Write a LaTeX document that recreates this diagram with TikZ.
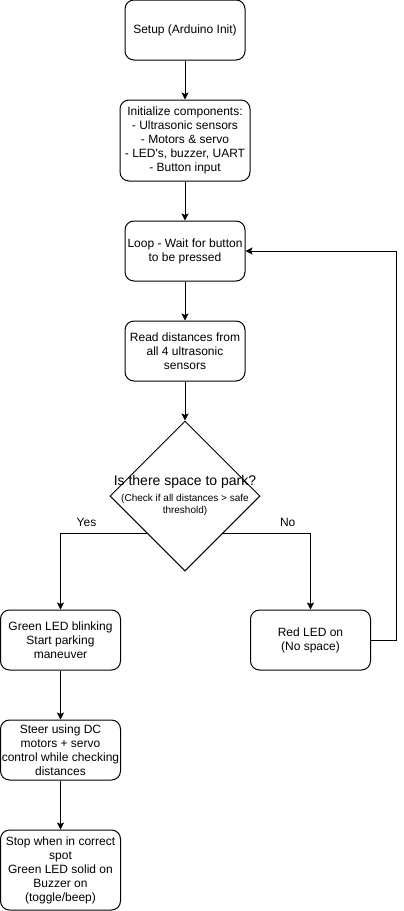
\documentclass[tikz,border=0pt]{standalone}
\usepackage{fontspec}
\setmainfont{Liberation Sans}
\usetikzlibrary{arrows.meta,positioning,shapes.geometric,calc}

\begin{document}
\begin{tikzpicture}[
  x=1pt, y=1pt,
  node distance=39pt,
  stepbox/.style={draw, line width=1pt, rounded corners=9pt, minimum width=120pt, minimum height=60pt, align=center, inner sep=1pt, font=\fontsize{12}{14}\selectfont},
  decide/.style={draw, diamond, line width=1pt, minimum width=150pt, minimum height=150pt, inner sep=0pt, fill=white},
  lbl/.style={font=\fontsize{12}{14}\selectfont},
  arr/.style={-{Stealth[length=7pt, width=7pt, inset=1.5pt]}, line width=1pt}
]
  \useasboundingbox (0,0) rectangle (404,-911);

  % Main column
  \node[stepbox] (setup) at (185,-30) {Setup (Arduino Init)};
  \node[stepbox, minimum width=130pt, minimum height=81pt, below=of setup] (init) {Initialize components:\\- Ultrasonic sensors\\- Motors \& servo\\- LED\textquotesingle s, buzzer, UART\\- Button input};
  \node[stepbox, below=of init] (loop) {Loop - Wait for button\\to be pressed};
  \node[stepbox, below=of loop] (read) {Read distances from\\all 4 ultrasonic\\sensors};

  % Decision
  \node[decide, below=of read] (check) {};
  \node[font=\fontsize{14}{16}\selectfont, inner sep=0pt] (question) at ($(check.center)+(0,14.5)$) {Is there space to park?};
  \node[font=\fontsize{10}{12}\selectfont, align=center, inner sep=0pt] (hint) at ($(check.center)+(0,-9)$) {(Check if all distances > safe\\threshold)};

  % Branches
  \node[stepbox] (go) at (60.5,-640) {Green LED blinking\\Start parking\\maneuver};
  \node[stepbox] (nospace) at (310.5,-640) {Red LED on\\(No space)};
  \node[stepbox, below=49pt of go] (steer) {Steer using DC\\motors + servo\\control while checking\\distances};
  \node[stepbox, minimum height=80pt, below=49pt of steer] (stop) {Stop when in correct\\spot\\Green LED solid on\\Buzzer on\\(toggle/beep)};

  \draw[arr] (setup) -- (init);
  \draw[arr] (init) -- (loop);
  \draw[arr] (loop) -- (read);
  \draw[arr] (read) -- (check);
  \draw[arr] ($(check.west)!0.5!(check.south)$) -| node[lbl, pos=0.35, above, yshift=3pt] {Yes} (go);
  \draw[arr] ($(check.east)!0.5!(check.south)$) -| node[lbl, pos=0.37, above, yshift=3pt] {No} (nospace);
  \draw[arr] (nospace.east) -- ++(25,0) |- (loop.east);
  \draw[arr] (go) -- (steer);
  \draw[arr] (steer) -- (stop);
\end{tikzpicture}
\end{document}
